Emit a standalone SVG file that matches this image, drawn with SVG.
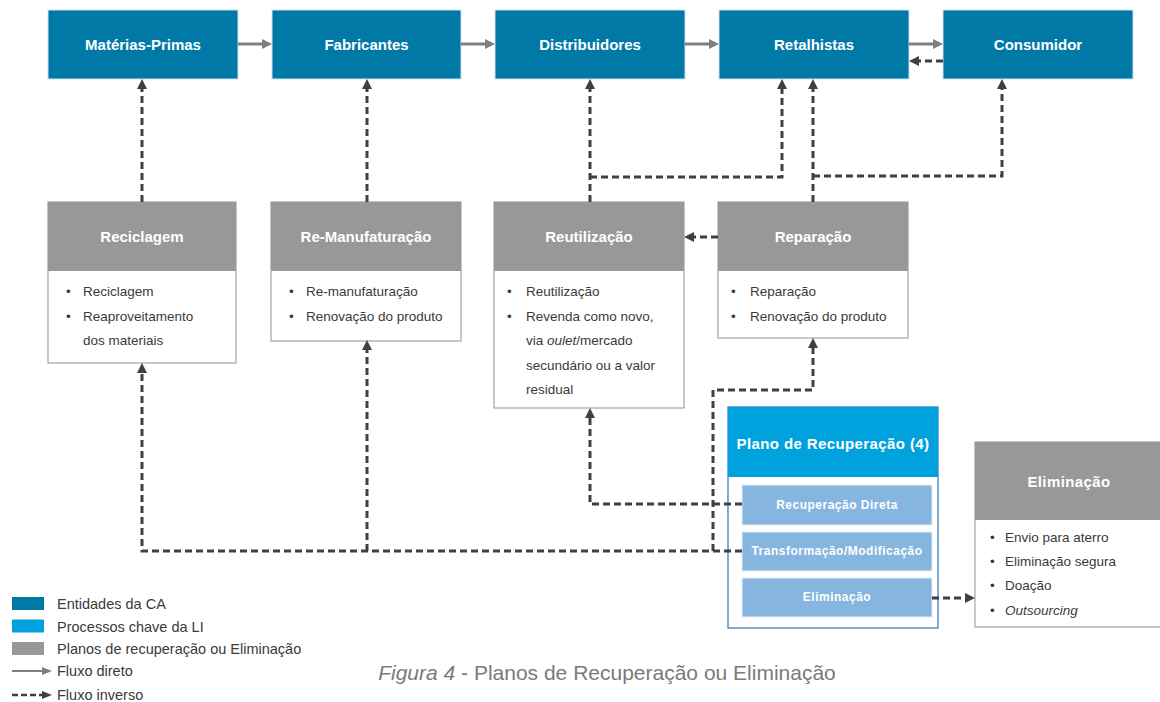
<svg xmlns="http://www.w3.org/2000/svg" width="1160" height="702" viewBox="0 0 1160 702">
  <style>
    .ent { fill: #0079a7; stroke: #cde2ec; stroke-width: 1; }
    .hdr { fill: #989898; }
    .card { fill: #ffffff; stroke: #a3a3a3; stroke-width: 1.2; }
    .lbl { font-family: "Liberation Sans", Arial, sans-serif; font-weight: bold; font-size: 15px; fill: #ffffff; text-anchor: middle; }
    .body { font-family: "Liberation Sans", Arial, sans-serif; font-size: 13.5px; fill: #3a3a3a; }
    .sub { fill: #86b5df; stroke: #e6f0f9; stroke-width: 1; }
    .sublbl { font-family: "Liberation Sans", Arial, sans-serif; font-weight: bold; font-size: 12px; letter-spacing: 0.5px; fill: #ffffff; text-anchor: middle; }
    .legend { font-family: "Liberation Sans", Arial, sans-serif; font-size: 14.5px; fill: #3a3a3a; }
    .direct { fill: none; stroke: #7f7f7f; stroke-width: 3; }
    .inverse { fill: none; stroke: #404040; stroke-width: 3; stroke-dasharray: 7 4; }
  </style>
  <defs>
    <marker id="head-direct" markerUnits="userSpaceOnUse" markerWidth="10" markerHeight="10" refX="1" refY="5" orient="auto">
      <path d="M0,0 L10,5 L0,10 z" fill="#7f7f7f"/>
    </marker>
    <marker id="head-inverse" markerUnits="userSpaceOnUse" markerWidth="10" markerHeight="10" refX="1" refY="5" orient="auto">
      <path d="M0,0 L10,5 L0,10 z" fill="#404040"/>
    </marker>
  </defs>

  <!-- supply chain entities -->
  <g id="materias-primas">
    <rect class="ent" x="48" y="10" width="190" height="69"/>
    <text class="lbl" x="143" y="49.5">Matérias-Primas</text>
  </g>
  <g id="fabricantes">
    <rect class="ent" x="272" y="10" width="189" height="69"/>
    <text class="lbl" x="366.5" y="49.5">Fabricantes</text>
  </g>
  <g id="distribuidores">
    <rect class="ent" x="495" y="10" width="190" height="69"/>
    <text class="lbl" x="590" y="49.5">Distribuidores</text>
  </g>
  <g id="retalhistas">
    <rect class="ent" x="719" y="10" width="190" height="69"/>
    <text class="lbl" x="814" y="49.5">Retalhistas</text>
  </g>
  <g id="consumidor">
    <rect class="ent" x="943" y="10" width="190" height="69"/>
    <text class="lbl" x="1038" y="49.5">Consumidor</text>
  </g>

  <!-- recovery plans -->
  <g id="reciclagem">
    <rect class="card" x="48" y="202" width="188" height="161"/>
    <rect class="hdr" x="48" y="202" width="188" height="69"/>
    <text class="lbl" x="142" y="241.5">Reciclagem</text>
    <text class="body" x="66" y="296">•</text>
    <text class="body" x="83" y="296">Reciclagem</text>
    <text class="body" x="66" y="320.5">•</text>
    <text class="body" x="83" y="320.5">Reaproveitamento</text>
    <text class="body" x="83" y="345">dos materiais</text>
  </g>
  <g id="re-manufaturacao">
    <rect class="card" x="271" y="202" width="190" height="139"/>
    <rect class="hdr" x="271" y="202" width="190" height="69"/>
    <text class="lbl" x="366" y="241.5">Re-Manufaturação</text>
    <text class="body" x="289" y="296">•</text>
    <text class="body" x="306" y="296">Re-manufaturação</text>
    <text class="body" x="289" y="320.5">•</text>
    <text class="body" x="306" y="320.5">Renovação do produto</text>
  </g>
  <g id="reutilizacao">
    <rect class="card" x="494" y="202" width="190" height="206"/>
    <rect class="hdr" x="494" y="202" width="190" height="69"/>
    <text class="lbl" x="589" y="241.5">Reutilização</text>
    <text class="body" x="507" y="296">•</text>
    <text class="body" x="526" y="296">Reutilização</text>
    <text class="body" x="507" y="320.5">•</text>
    <text class="body" x="526" y="320.5">Revenda como novo,</text>
    <text class="body" x="526" y="345">via <tspan font-style="italic">oulet</tspan>/mercado</text>
    <text class="body" x="526" y="369.5">secundário ou a valor</text>
    <text class="body" x="526" y="394">residual</text>
  </g>
  <g id="reparacao">
    <rect class="card" x="718" y="202" width="190" height="136"/>
    <rect class="hdr" x="718" y="202" width="190" height="69"/>
    <text class="lbl" x="813" y="241.5">Reparação</text>
    <text class="body" x="731" y="296">•</text>
    <text class="body" x="750" y="296">Reparação</text>
    <text class="body" x="731" y="320.5">•</text>
    <text class="body" x="750" y="320.5">Renovação do produto</text>
  </g>

  <!-- key reverse logistics process -->
  <g id="plano-recuperacao">
    <rect x="728" y="407" width="210" height="221" fill="#ffffff" stroke="#5b8fc4" stroke-width="1.5"/>
    <rect x="728" y="407" width="210" height="70" fill="#00a2de"/>
    <text class="lbl" x="833" y="448.5" letter-spacing="0.4">Plano de Recuperação (4)</text>
    <g id="recuperacao-direta">
      <rect class="sub" x="742" y="485" width="190" height="40"/>
      <text class="sublbl" x="837" y="508.5">Recuperação Direta</text>
    </g>
    <g id="transformacao">
      <rect class="sub" x="742" y="532" width="190" height="39"/>
      <text class="sublbl" x="837" y="554.5">Transformação/Modificação</text>
    </g>
    <g id="eliminacao-sub">
      <rect class="sub" x="742" y="578" width="190" height="39"/>
      <text class="sublbl" x="837" y="600.5">Eliminação</text>
    </g>
  </g>

  <g id="eliminacao">
    <rect class="card" x="975" y="442" width="190" height="185"/>
    <rect class="hdr" x="975" y="442" width="190" height="78"/>
    <text class="lbl" x="1069" y="486.5" letter-spacing="0.4">Eliminação</text>
    <text class="body" x="990" y="541.5">•</text>
    <text class="body" x="1005" y="541.5">Envio para aterro</text>
    <text class="body" x="990" y="566">•</text>
    <text class="body" x="1005" y="566">Eliminação segura</text>
    <text class="body" x="990" y="590">•</text>
    <text class="body" x="1005" y="590">Doação</text>
    <text class="body" x="990" y="615">•</text>
    <text class="body" x="1005" y="615" font-style="italic">Outsourcing</text>
  </g>

  <!-- connectors -->
  <g id="connectors">
    <!-- direct flow -->
    <path class="direct" d="M238,44 H263" marker-end="url(#head-direct)"/>
    <path class="direct" d="M461,44 H486" marker-end="url(#head-direct)"/>
    <path class="direct" d="M685,44 H710" marker-end="url(#head-direct)"/>
    <path class="direct" d="M909,44 H934" marker-end="url(#head-direct)"/>
    <!-- inverse flow -->
    <path class="inverse" d="M943,61 H918" marker-end="url(#head-inverse)"/>
    <path class="inverse" d="M142,202 V88" marker-end="url(#head-inverse)"/>
    <path class="inverse" d="M367,202 V88" marker-end="url(#head-inverse)"/>
    <path class="inverse" d="M590,202 V88" marker-end="url(#head-inverse)"/>
    <path class="inverse" d="M590,177 H782 V88" marker-end="url(#head-inverse)"/>
    <path class="inverse" d="M813,202 V88" marker-end="url(#head-inverse)"/>
    <path class="inverse" d="M813,176 H1002 V88" marker-end="url(#head-inverse)"/>
    <path class="inverse" d="M718,237 H693" marker-end="url(#head-inverse)"/>
    <path class="inverse" d="M742,504 H590 V417" marker-end="url(#head-inverse)"/>
    <path class="inverse" d="M742,551 H142 V372" marker-end="url(#head-inverse)"/>
    <path class="inverse" d="M367,551 V349" marker-end="url(#head-inverse)"/>
    <path class="inverse" d="M713,551 V390 H813 V347" marker-end="url(#head-inverse)"/>
    <path class="inverse" d="M932,598 H966" marker-end="url(#head-inverse)"/>
  </g>

  <!-- legend -->
  <g id="legend">
    <rect x="12" y="597" width="32" height="13" fill="#0079a7"/>
    <text class="legend" x="57" y="609">Entidades da CA</text>
    <rect x="12" y="619.5" width="32" height="13" fill="#00a2de"/>
    <text class="legend" x="57" y="632">Processos chave da LI</text>
    <rect x="12" y="642" width="32" height="13" fill="#989898"/>
    <text class="legend" x="57" y="654">Planos de recuperação ou Eliminação</text>
    <path d="M12,671 H42" stroke="#7f7f7f" stroke-width="2" fill="none"/>
    <path d="M42,667 L52,671 L42,675 z" fill="#7f7f7f"/>
    <text class="legend" x="57" y="676">Fluxo direto</text>
    <path d="M12,695 H42" stroke="#404040" stroke-width="2.5" fill="none" stroke-dasharray="6 3"/>
    <path d="M42,691 L52,695 L42,699 z" fill="#404040"/>
    <text class="legend" x="57" y="700">Fluxo inverso</text>
  </g>

  <!-- caption -->
  <text x="607" y="680" text-anchor="middle" font-family="'Liberation Sans', Arial, sans-serif" font-size="21" fill="#7a7a7a"><tspan font-style="italic">Figura 4</tspan> - Planos de Recuperação ou Eliminação</text>
</svg>
